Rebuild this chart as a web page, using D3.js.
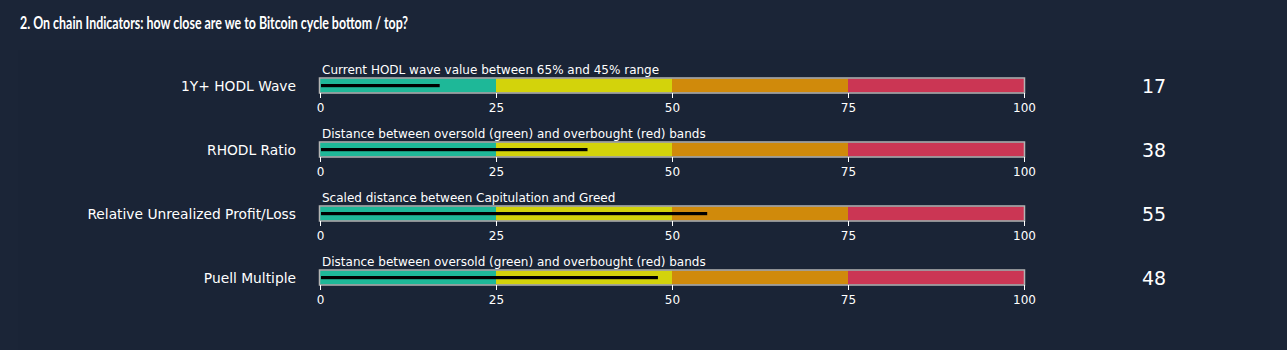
<!DOCTYPE html>
<html>
<head>
<meta charset="utf-8">
<script src="https://cdn.jsdelivr.net/npm/d3@7"></script>
<style>
  html, body { margin: 0; padding: 0; background: #1b2537; }
  svg { display: block; }
</style>
</head>
<body>
<svg id="chart" width="1287" height="350"></svg>
<script>
// Indicator rows
const indicators = ["1Y+ HODL Wave", "RHODL Ratio", "Relative Unrealized Profit/Loss", "Puell Multiple"];
const subtitles = [
  "Current HODL wave value between 65% and 45% range",
  "Distance between oversold (green) and overbought (red) bands",
  "Scaled distance between Capitulation and Greed",
  "Distance between oversold (green) and overbought (red) bands"
];
const values = [17, 38, 55, 48];
// Gauge bands
const bandStarts = [0, 25, 50, 75];
const bandEnds = [25, 50, 75, 100];
const bandColors = ["#1eb898", "#d3d30b", "#d08a0b", "#cb3654"];
const tickValues = [0, 25, 50, 75, 100];

const svg = d3.select("#chart");

// panel behind the gauges
svg.append("rect").attr("x", 18).attr("y", 50).attr("width", 1252).attr("height", 300)
  .attr("fill", "#1a2436");

const title = svg.append("text")
  .attr("x", 20).attr("y", 29)
  .attr("fill", "#ffffff")
  .attr("font-family", "Lato, sans-serif")
  .attr("font-weight", "bold")
  .attr("font-size", 16.5)
  .text("2. On chain Indicators: how close are we to Bitcoin cycle bottom / top?");
title.attr("textLength", 388).attr("lengthAdjust", "spacingAndGlyphs");

const x = d3.scaleLinear().domain([0, 100]).range([320, 1024]);
const rowY = d3.scalePoint().domain(d3.range(indicators.length)).range([85.5, 277.5]);
const barH = 14;

indicators.forEach((name, i) => {
  const cy = rowY(i);
  const g = svg.append("g");

  // band fills
  g.selectAll("rect.band").data(bandStarts).join("rect")
    .attr("class", "band")
    .attr("x", (d, j) => x(d))
    .attr("y", cy - barH / 2)
    .attr("width", (d, j) => x(bandEnds[j]) - x(d))
    .attr("height", barH)
    .attr("fill", (d, j) => bandColors[j]);

  // gauge border
  g.append("rect")
    .attr("x", x(0) - 0.5).attr("y", cy - barH / 2 - 0.5)
    .attr("width", x(100) - x(0) + 1).attr("height", barH + 1)
    .attr("fill", "none").attr("stroke", "#b4b4b4").attr("stroke-width", 1.5);

  // value bar
  g.append("rect")
    .attr("x", x(0) + 1).attr("y", cy - 1.5)
    .attr("width", x(values[i]) - x(0) - 1).attr("height", 3.2)
    .attr("fill", "#000000");

  // axis
  const axis = d3.axisBottom(x).tickValues(tickValues).tickSize(5).tickPadding(5);
  const ag = svg.append("g")
    .attr("transform", `translate(0,${cy + barH / 2 + 0.5})`)
    .call(axis);
  ag.select(".domain").remove();
  ag.selectAll(".tick line").attr("stroke", "#ffffff");
  ag.selectAll(".tick text")
    .attr("fill", "#ffffff")
    .attr("font-family", "DejaVu Sans, sans-serif")
    .attr("font-size", 12);

  // subtitle above the gauge
  svg.append("text")
    .attr("x", 322).attr("y", cy - barH / 2 - 5)
    .attr("fill", "#ffffff")
    .attr("font-family", "DejaVu Sans, sans-serif")
    .attr("font-size", 12)
    .text(subtitles[i]);

  // indicator name
  svg.append("text")
    .attr("x", 296).attr("y", cy + 5)
    .attr("text-anchor", "end")
    .attr("fill", "#ffffff")
    .attr("font-family", "DejaVu Sans, sans-serif")
    .attr("font-size", 13.8)
    .text(name);

  // value number
  svg.append("text")
    .attr("x", 1154).attr("y", cy + 7)
    .attr("text-anchor", "middle")
    .attr("fill", "#ffffff")
    .attr("font-family", "DejaVu Sans, sans-serif")
    .attr("font-size", 19)
    .text(values[i]);
});
</script>
</body>
</html>
